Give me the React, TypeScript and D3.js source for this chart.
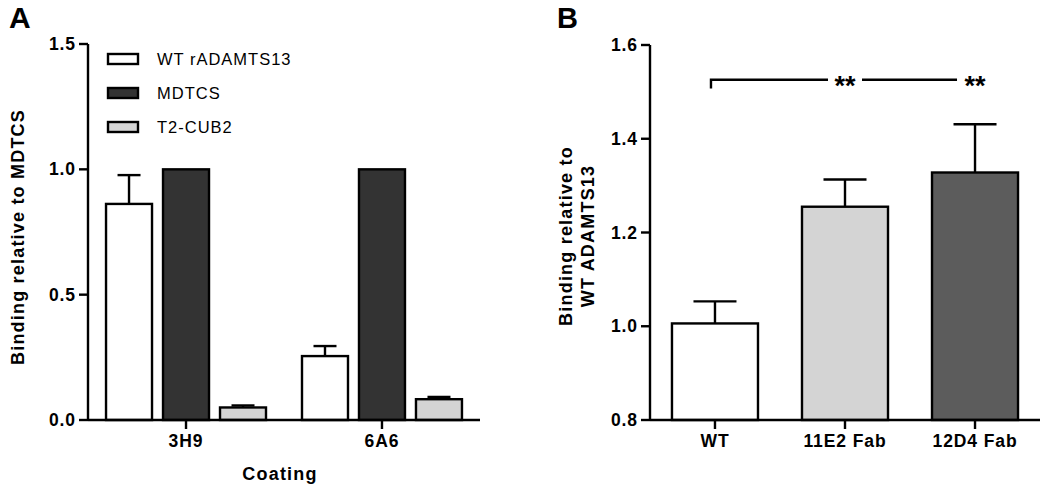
import React from "react";
import * as d3 from "d3";

// Panel A data
const coatings = ["3H9", "6A6"];
const seriesA = ["WT rADAMTS13", "MDTCS", "T2-CUB2"];
const meansA: number[][] = [
  [0.862, 1.0, 0.05],
  [0.255, 1.0, 0.083],
];
const errA: number[][] = [
  [0.115, 0, 0.008],
  [0.04, 0, 0.009],
];
const yTicksA = [0.0, 0.5, 1.0, 1.5];

// Panel B data
const groupsB = ["WT", "11E2 Fab", "12D4 Fab"];
const meansB = [1.006, 1.255, 1.328];
const errB = [0.047, 0.058, 0.103];
const yTicksB = [0.8, 1.0, 1.2, 1.4, 1.6];
const sigLevel = 1.526;
const sigTick = 1.507;
const sigLabels = ["**", "**"];

const fillsA = ["#ffffff", "#333333", "#d4d4d4"];
const fillsB = ["#ffffff", "#d4d4d4", "#5c5c5c"];

const FONT = "'Liberation Sans', Arial, Helvetica, sans-serif";

export default function App() {
  // Panel A scales
  const xA = d3.scaleBand<string>().domain(coatings).range([88, 480]).paddingInner(36 / 196).paddingOuter(0.092);
  const xAi = d3.scaleBand<string>().domain(seriesA).range([0, xA.bandwidth()]).paddingInner(11 / 57).paddingOuter(0);
  const yA = d3.scaleLinear().domain([0, 1.5]).range([420, 44]);

  // Panel B scales
  const xB = d3.scaleBand<string>().domain(groupsB).range([650, 1040]).paddingInner(44 / 130).paddingOuter(0.169);
  const yB = d3.scaleLinear().domain([0.8, 1.6]).range([420, 45]);

  const tickStyle: React.CSSProperties = { fontFamily: FONT, fontWeight: "bold", fontSize: 17.5, letterSpacing: 0.9 };
  const labStyle: React.CSSProperties = { fontFamily: FONT, fontWeight: "bold", fontSize: 18, letterSpacing: 1.2 };

  const sw = 2.4;

  return (
    <svg width={1050} height={486} style={{ position: "absolute", left: 0, top: 0, background: "#fff" }}>
      {/* Panel letters */}
      <text x={9} y={28} style={{ fontFamily: FONT, fontWeight: "bold", fontSize: 30 }}>A</text>
      <text x={557} y={28} style={{ fontFamily: FONT, fontWeight: "bold", fontSize: 29 }}>B</text>

      {/* ===== Panel A ===== */}
      <g>
        {coatings.map((c, gi) =>
          seriesA.map((s, si) => {
            const x0 = (xA(c) ?? 0) + (xAi(s) ?? 0);
            const w = xAi.bandwidth();
            const v = meansA[gi][si];
            const e = errA[gi][si];
            return (
              <g key={c + s}>
                {e > 0 && (
                  <g stroke="#000" strokeWidth={sw}>
                    <line x1={x0 + w / 2} x2={x0 + w / 2} y1={yA(v)} y2={yA(v + e)} />
                    <line x1={x0 + w / 4} x2={x0 + (3 * w) / 4} y1={yA(v + e)} y2={yA(v + e)} />
                  </g>
                )}
                <rect x={x0} y={yA(v)} width={w} height={yA(0) - yA(v)} fill={fillsA[si]} stroke="#000" strokeWidth={sw} />
              </g>
            );
          })
        )}
        {/* y axis */}
        <line x1={88} x2={88} y1={yA(1.5)} y2={yA(0)} stroke="#000" strokeWidth={sw} />
        {yTicksA.map((t) => (
          <g key={t}>
            <line x1={79} x2={88} y1={yA(t)} y2={yA(t)} stroke="#000" strokeWidth={sw} />
            <text x={76} y={yA(t) + 6} textAnchor="end" style={tickStyle}>{d3.format(".1f")(t)}</text>
          </g>
        ))}
        {/* x axis */}
        <line x1={88} x2={480} y1={yA(0)} y2={yA(0)} stroke="#000" strokeWidth={sw} />
        {coatings.map((c) => {
          const cx = (xA(c) ?? 0) + xA.bandwidth() / 2;
          return (
            <g key={c}>
              <line x1={cx} x2={cx} y1={yA(0)} y2={yA(0) + 9} stroke="#000" strokeWidth={sw} />
              <text x={cx} y={447} textAnchor="middle" style={tickStyle}>{c}</text>
            </g>
          );
        })}
        <text x={280} y={480} textAnchor="middle" style={labStyle}>Coating</text>
        <text transform={`translate(24,237) rotate(-90)`} textAnchor="middle" style={labStyle}>Binding relative to MDTCS</text>

        {/* legend */}
        {seriesA.map((s, i) => {
          const cy = 59 + i * 34;
          return (
            <g key={s}>
              <rect x={108} y={cy - 5} width={30} height={10} fill={fillsA[i]} stroke="#000" strokeWidth={sw} />
              <text x={157} y={cy + 6} style={{ fontFamily: FONT, fontSize: 16.5, letterSpacing: 1 }}>{s}</text>
            </g>
          );
        })}
      </g>

      {/* ===== Panel B ===== */}
      <g>
        {groupsB.map((g, i) => {
          const x0 = xB(g) ?? 0;
          const w = xB.bandwidth();
          const v = meansB[i];
          const e = errB[i];
          return (
            <g key={g}>
              <g stroke="#000" strokeWidth={sw}>
                <line x1={x0 + w / 2} x2={x0 + w / 2} y1={yB(v)} y2={yB(v + e)} />
                <line x1={x0 + w / 4} x2={x0 + (3 * w) / 4} y1={yB(v + e)} y2={yB(v + e)} />
              </g>
              <rect x={x0} y={yB(v)} width={w} height={yB(0.8) - yB(v)} fill={fillsB[i]} stroke="#000" strokeWidth={sw} />
            </g>
          );
        })}
        <line x1={650} x2={650} y1={yB(1.6)} y2={yB(0.8)} stroke="#000" strokeWidth={sw} />
        {yTicksB.map((t) => (
          <g key={t}>
            <line x1={641} x2={650} y1={yB(t)} y2={yB(t)} stroke="#000" strokeWidth={sw} />
            <text x={638} y={yB(t) + 6} textAnchor="end" style={tickStyle}>{d3.format(".1f")(t)}</text>
          </g>
        ))}
        <line x1={650} x2={1040} y1={yB(0.8)} y2={yB(0.8)} stroke="#000" strokeWidth={sw} />
        {groupsB.map((g) => {
          const cx = (xB(g) ?? 0) + xB.bandwidth() / 2;
          return (
            <g key={g}>
              <line x1={cx} x2={cx} y1={yB(0.8)} y2={yB(0.8) + 9} stroke="#000" strokeWidth={sw} />
              <text x={cx} y={447} textAnchor="middle" style={tickStyle}>{g}</text>
            </g>
          );
        })}
        <text transform={`translate(572,236) rotate(-90)`} textAnchor="middle" style={labStyle}>Binding relative to</text>
        <text transform={`translate(594,236) rotate(-90)`} textAnchor="middle" style={labStyle}>WT ADAMTS13</text>

        {/* significance bracket */}
        {(() => {
          const c0 = (xB(groupsB[0]) ?? 0) + xB.bandwidth() / 2 - 4;
          const c1 = (xB(groupsB[1]) ?? 0) + xB.bandwidth() / 2;
          const c2 = (xB(groupsB[2]) ?? 0) + xB.bandwidth() / 2;
          const yl = yB(sigLevel);
          return (
            <g>
              <path d={`M${c0},${yB(sigTick)}V${yl}H${c1 - 17}`} fill="none" stroke="#000" strokeWidth={sw} />
              <line x1={c1 + 17} x2={c2 - 18} y1={yl} y2={yl} stroke="#000" strokeWidth={sw} />
              <text x={c1} y={yl + 15} textAnchor="middle" style={{ fontFamily: FONT, fontWeight: "bold", fontSize: 27, letterSpacing: 0 }}>{sigLabels[0]}</text>
              <text x={c2} y={yl + 15} textAnchor="middle" style={{ fontFamily: FONT, fontWeight: "bold", fontSize: 27, letterSpacing: 0 }}>{sigLabels[1]}</text>
            </g>
          );
        })()}
      </g>
    </svg>
  );
}
